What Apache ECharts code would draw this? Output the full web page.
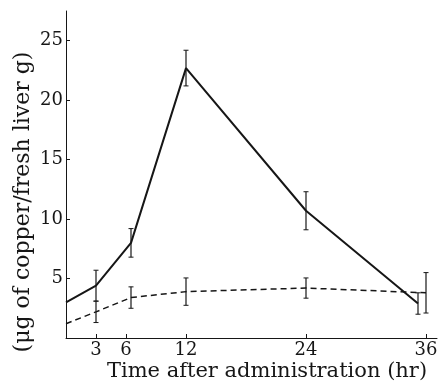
<!DOCTYPE html>
<html>
<head>
<meta charset="utf-8">
<script src="https://cdn.jsdelivr.net/npm/echarts@6/dist/echarts.min.js"></script>
<style>
  html, body { margin: 0; padding: 0; background: #fff; }
  #chart { width: 444px; height: 385px; }
</style>
</head>
<body>
<div id="chart"></div>
<script>
// hours after administration
var solidHours = [0, 3, 6.5, 12, 24, 35.2];
var solidVals  = [3.0, 4.4, 8.0, 22.7, 10.7, 2.9];
var solidErr   = [0, 1.3, 1.2, 1.5, 1.6, 0.9];

var dashHours = [0, 3, 6.5, 12, 24, 36];
var dashVals  = [1.2, 2.2, 3.4, 3.9, 4.2, 3.8];
var dashErr   = [0, 0.9, 0.9, 1.15, 0.85, 1.7];

var xTicks = [3, 6, 12, 24, 36];
var yTicks = [5, 10, 15, 20, 25];

var ink = '#161616';
var serif = 'DejaVu Serif';

function pairs(xs, ys) {
    var out = [];
    for (var i = 0; i < xs.length; i++) out.push([xs[i], ys[i]]);
    return out;
}

function errData(xs, ys, es) {
    var out = [];
    for (var i = 0; i < xs.length; i++) {
        if (es[i] > 0) out.push([xs[i], ys[i] - es[i], ys[i] + es[i]]);
    }
    return out;
}

// vertical error bar with small caps
function renderErr(params, api) {
    var lo = api.coord([api.value(0), api.value(1)]);
    var hi = api.coord([api.value(0), api.value(2)]);
    var w = 2.5;
    return {
        type: 'group',
        children: [
            { type: 'line', shape: { x1: lo[0], y1: lo[1], x2: hi[0], y2: hi[1] }, style: { stroke: ink, lineWidth: 1.2 } },
            { type: 'line', shape: { x1: lo[0] - w, y1: lo[1], x2: lo[0] + w, y2: lo[1] }, style: { stroke: ink, lineWidth: 1 } },
            { type: 'line', shape: { x1: hi[0] - w, y1: hi[1], x2: hi[0] + w, y2: hi[1] }, style: { stroke: ink, lineWidth: 1 } }
        ]
    };
}

var myChart = echarts.init(document.getElementById('chart'));

var option = {
    animation: false,
    backgroundColor: '#fff',
    grid: { left: 66, right: 7, top: 11, bottom: 47 },
    xAxis: {
        type: 'value',
        min: 0,
        max: 37.1,
        splitLine: { show: false },
        axisLine: { lineStyle: { color: ink, width: 1 } },
        axisTick: { show: true, inside: true, length: 4, customValues: xTicks, lineStyle: { color: ink } },
        axisLabel: { customValues: xTicks, color: ink, fontFamily: serif, fontSize: 18, margin: 3 }
    },
    yAxis: {
        type: 'value',
        min: 0,
        max: 27.5,
        splitLine: { show: false },
        axisLine: { show: true, lineStyle: { color: ink, width: 1 } },
        axisTick: { show: true, inside: true, length: 4, customValues: yTicks, lineStyle: { color: ink } },
        axisLabel: { customValues: yTicks, color: ink, fontFamily: serif, fontSize: 18, margin: 3 }
    },
    graphic: [
        {
            type: 'text',
            x: 23, y: 202,
            rotation: Math.PI / 2,
            style: {
                text: '(μg of copper/fresh liver g)',
                fill: ink,
                font: '22px "DejaVu Serif"',
                align: 'center',
                verticalAlign: 'middle'
            }
        },
        {
            type: 'text',
            x: 267, y: 372,
            style: {
                text: 'Time after administration (hr)',
                fill: ink,
                font: '21px "DejaVu Serif"',
                align: 'center',
                verticalAlign: 'middle'
            }
        }
    ],
    series: [
        {
            type: 'line',
            data: pairs(solidHours, solidVals),
            symbol: 'none',
            lineStyle: { color: ink, width: 2 }
        },
        {
            type: 'line',
            data: pairs(dashHours, dashVals),
            symbol: 'none',
            lineStyle: { color: ink, width: 1.5, type: [6, 4] }
        },
        {
            type: 'custom',
            renderItem: renderErr,
            data: errData(solidHours, solidVals, solidErr).concat(errData(dashHours, dashVals, dashErr)),
            z: 3
        }
    ]
};

myChart.setOption(option);
</script>
</body>
</html>
